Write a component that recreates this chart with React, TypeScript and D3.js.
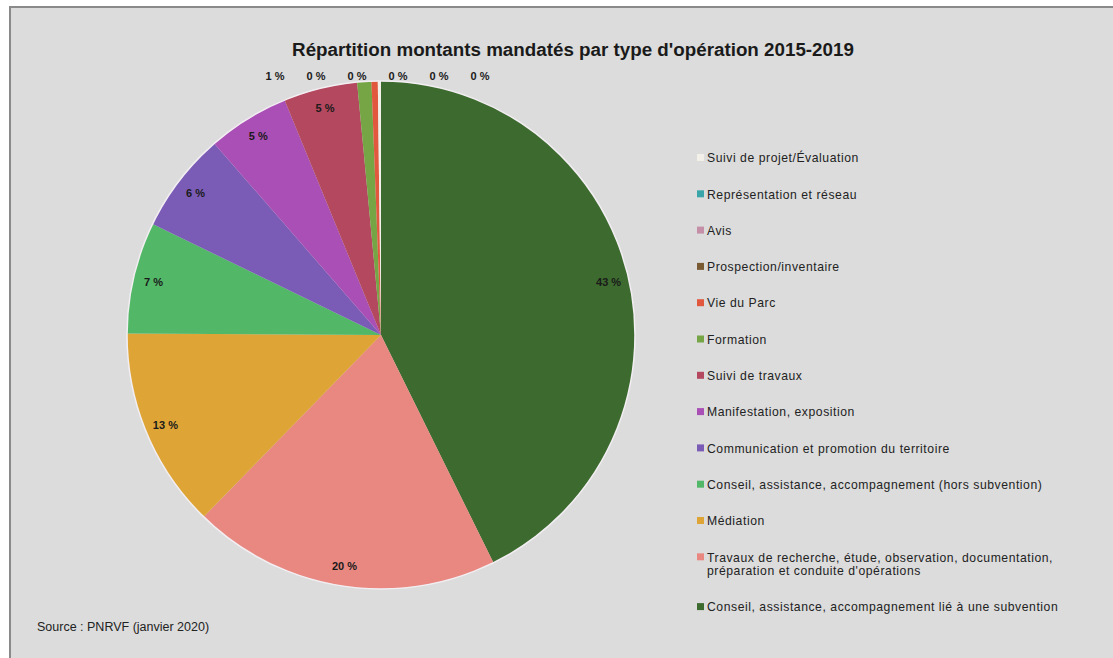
import React from "react";
import * as d3 from "d3";

// Data (clockwise from 12 o'clock)
const categories = [
  "Conseil, assistance, accompagnement lié à une subvention",
  "Travaux de recherche, étude, observation, documentation, préparation et conduite d'opérations",
  "Médiation",
  "Conseil, assistance, accompagnement (hors subvention)",
  "Communication et promotion du territoire",
  "Manifestation, exposition",
  "Suivi de travaux",
  "Formation",
  "Vie du Parc",
  "Prospection/inventaire",
  "Avis",
  "Représentation et réseau",
  "Suivi de projet/Évaluation",
];
const values = [42.7, 19.6, 12.8, 7.1, 6.4, 5.2, 4.7, 0.9, 0.4, 0.0, 0.0, 0.0, 0.2];
const colors = [
  "#3d6b2f", "#e98880", "#dea536", "#52b868", "#7a5cb6", "#aa4fb6", "#b4485f",
  "#76a545", "#e2583e", "#7a5a32", "#c68fa8", "#3aa5a8", "#f3f0ea",
];
// legend lines (legend shows the categories in reverse order)
const legendLines: Record<string, string[]> = {
  "Travaux de recherche, étude, observation, documentation, préparation et conduite d'opérations": [
    "Travaux de recherche, étude, observation, documentation,",
    "préparation et conduite d'opérations",
  ],
};
const title = "Répartition montants mandatés par type d'opération 2015-2019";
const source = "Source : PNRVF (janvier 2020)";

const W = 1113, H = 658;
const cx = 381, cy = 335, R = 254;
const narrow = "'Liberation Sans Narrow', 'Arial Narrow', 'Liberation Sans', sans-serif";

export default function App() {
  const total = d3.sum(values);
  const pie = d3.pie<number>().sort(null).value((d) => d);
  const arcs = pie(values);
  const arc = d3.arc<d3.PieArcDatum<number>>().innerRadius(0).outerRadius(R);
  const labelR = R * 0.92;
  const pct = (v: number) => `${Math.round((v / total) * 100)} %`;

  // small slices (< 2%) get labels in a row above the pie
  const smallIdx = values.map((v, i) => i).filter((i) => values[i] / total < 0.02);
  const rowStart = cx - 106, rowStep = 41;

  const legendOrder = categories.map((c, i) => i).reverse();
  const lineGap = 13;
  let ly = 158;
  const legendItems = legendOrder.map((i) => {
    const lines = legendLines[categories[i]] || [categories[i]];
    const item = { i, lines, y: ly };
    ly += 36.3 + (lines.length - 1) * 13.5;
    return item;
  });

  return (
    <svg width={W} height={H} style={{ position: "absolute", left: 0, top: 0, display: "block" }}>
      <rect x={0} y={0} width={W} height={H} fill="#ffffff" />
      <rect x={10} y={7} width={W + 20} height={H + 20} fill="#dcdcdc" stroke="#8a8a8a" strokeWidth={2} />
      <text x={573} y={56} textAnchor="middle" fontFamily={narrow} fontWeight="bold" fontSize={18.8} fill="#1a1a1a">
        {title}
      </text>
      <g transform={`translate(${cx},${cy})`}>
        {arcs.map((a, i) =>
          a.endAngle - a.startAngle > 0 ? (
            <path key={i} d={arc(a) || ""} fill={colors[i]} />
          ) : null
        )}
        <circle r={R} fill="none" stroke="#f2eef2" strokeWidth={1.5} />
        {arcs.map((a, i) => {
          if (smallIdx.includes(i)) return null;
          const m = (a.startAngle + a.endAngle) / 2;
          return (
            <text key={i} x={Math.sin(m) * labelR} y={-Math.cos(m) * labelR} dy="0.35em" textAnchor="middle"
              fontFamily={narrow} fontWeight="bold" fontSize={11} fill="#1a1a1a">
              {pct(values[i])}
            </text>
          );
        })}
      </g>
      {smallIdx.map((i, k) => (
        <text key={i} x={rowStart + k * rowStep} y={cy - R - 1} textAnchor="middle"
          fontFamily={narrow} fontWeight="bold" fontSize={11} fill="#1a1a1a">
          {pct(values[i])}
        </text>
      ))}
      {legendItems.map(({ i, lines, y }) => (
        <g key={i}>
          <rect x={697} y={y - 4} width={7} height={7} fill={colors[i]} />
          {lines.map((l, k) => (
            <text key={k} x={707} y={y + k * lineGap} dy="0.35em" fontFamily={narrow} fontSize={12.2}
              letterSpacing={0.55} fill="#222">
              {l}
            </text>
          ))}
        </g>
      ))}
      <text x={37} y={631} fontFamily={narrow} fontSize={12.5} fill="#222">
        {source}
      </text>
    </svg>
  );
}
